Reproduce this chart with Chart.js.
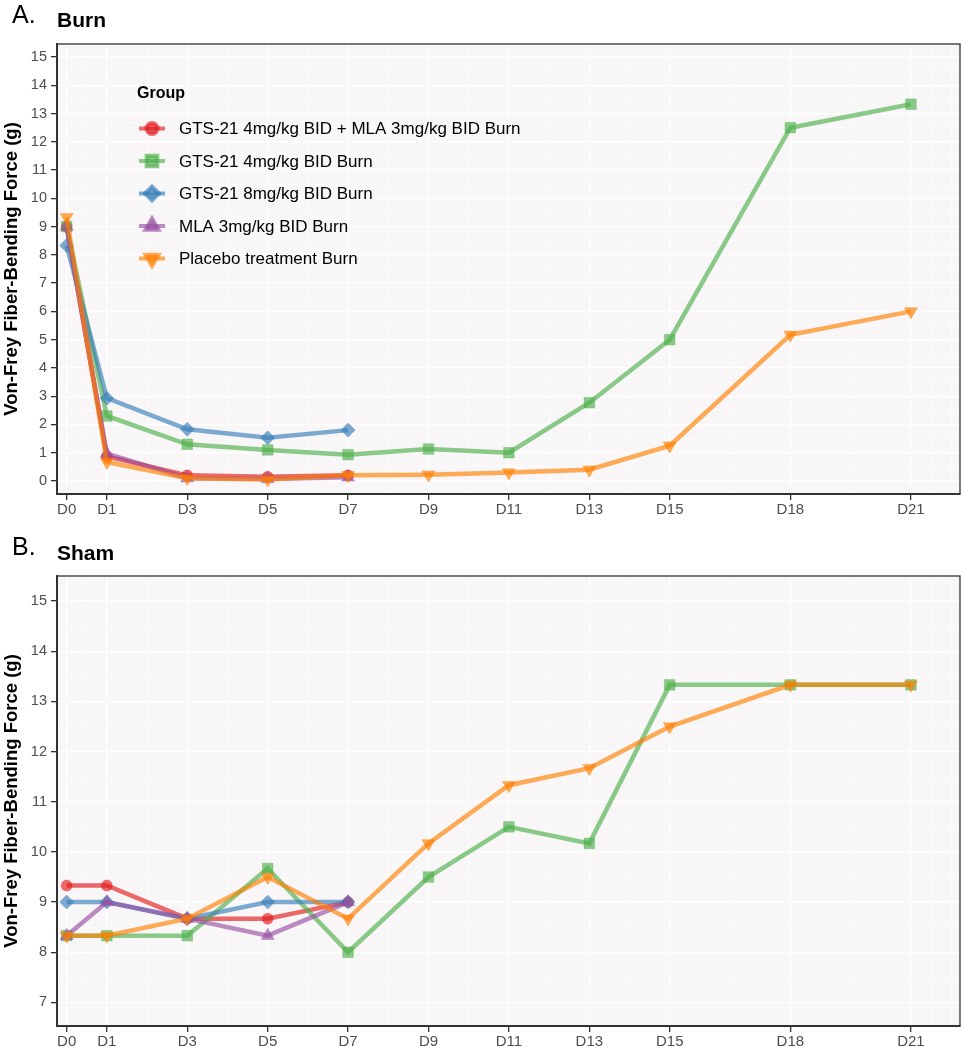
<!DOCTYPE html>
<html>
<head>
<meta charset="utf-8">
<script src="https://cdn.jsdelivr.net/npm/chart.js@4.4.1/dist/chart.umd.min.js"></script>
<style>
    body { margin: 0; background: #fff; font-family: "Liberation Sans", Arial, sans-serif; }
    .wrap { position: relative; width: 962px; height: 1050px; }
    canvas { position: absolute; left: 0; }
    .tag { position: absolute; font-size: 25px; line-height: 25px; color: #000; }
    .name { position: absolute; font-size: 21px; line-height: 21px; font-weight: bold; color: #000; }
</style>
</head>
<body>
<div class="wrap">
    <canvas id="burnChart" width="962" height="520" style="top:0"></canvas>
    <canvas id="shamChart" width="962" height="530" style="top:520px"></canvas>
    <div class="tag" style="left:12px;top:2px">A.</div>
    <div class="name" style="left:57px;top:9px">Burn</div>
    <div class="tag" style="left:12px;top:534px">B.</div>
    <div class="name" style="left:57px;top:542px">Sham</div>
</div>
<script>
// x positions (days) and the group names
const days = [0, 1, 3, 5, 7, 9, 11, 13, 15, 18, 21];
const groups = [
    "GTS-21 4mg/kg BID + MLA 3mg/kg BID Burn",
    "GTS-21 4mg/kg BID Burn",
    "GTS-21 8mg/kg BID Burn",
    "MLA 3mg/kg BID Burn",
    "Placebo treatment Burn"
];

// Burn panel values
const burnCombo = [9.0, 0.87, 0.2, 0.15, 0.2];
const burnGts4 = [9.0, 2.3, 1.3, 1.1, 0.93, 1.13, 1.0, 2.77, 5.0, 12.5, 13.33];
const burnGts8 = [8.33, 2.93, 1.83, 1.53, 1.8];
const burnMla = [9.0, 0.97, 0.1, 0.07, 0.13];
const burnPlacebo = [9.33, 0.67, 0.1, 0.05, 0.2, 0.22, 0.3, 0.4, 1.25, 5.17, 6.0];

// Sham panel values
const shamCombo = [9.33, 9.33, 8.67, 8.67, 9.0];
const shamGts4 = [8.33, 8.33, 8.33, 9.67, 8.0, 9.5, 10.5, 10.17, 13.33, 13.33, 13.33];
const shamGts8 = [9.0, 9.0, 8.67, 9.0, 9.0];
const shamMla = [8.33, 9.0, 8.67, 8.33, 9.0];
const shamPlacebo = [8.33, 8.33, 8.67, 9.5, 8.67, 10.17, 11.33, 11.67, 12.5, 13.33, 13.33];

// minor x grid lines sit halfway between the day breaks
const xMinor = [0.5, 2, 4, 6, 8, 10, 12, 14, 16.5, 19.5, 21.5, 22];

const colours = ["rgba(228,26,28,0.65)", "rgba(77,175,74,0.65)", "rgba(55,126,184,0.65)",
                 "rgba(152,78,163,0.65)", "rgba(255,127,0,0.65)"];
const shapes = ["circle", "rect", "rectRot", "triangle", "triangle"];
const radii = [5.5, 7.5, 7, 7.5, 7.5];
const turns = [0, 0, 0, 0, 180];

Chart.defaults.font.family = '"Liberation Sans", Arial, sans-serif';

const panelBg = {
    id: "panelBg",
    beforeDraw(chart) {
        const a = chart.chartArea, ctx = chart.ctx;
        ctx.save();
        ctx.fillStyle = "#f8f6f7";
        ctx.fillRect(a.left, a.top, a.right - a.left, a.bottom - a.top);
        ctx.restore();
    },
    afterDraw(chart) {
        const a = chart.chartArea, ctx = chart.ctx;
        ctx.save();
        ctx.strokeStyle = "#333";
        ctx.lineWidth = 1.3;
        ctx.strokeRect(a.left, a.top, a.right - a.left, a.bottom - a.top);
        ctx.restore();
    }
};

// legend drawn inside the burn panel
const insideLegend = {
    id: "insideLegend",
    afterDraw(chart, args, opts) {
        if (!opts.show) return;
        const ctx = chart.ctx;
        ctx.save();
        ctx.fillStyle = "#000";
        ctx.font = 'bold 16px "Liberation Sans", Arial, sans-serif';
        ctx.textBaseline = "alphabetic";
        ctx.fillText("Group", 137, 98);
        ctx.font = '17px "Liberation Sans", Arial, sans-serif';
        ctx.textBaseline = "middle";
        groups.forEach((g, i) => {
            const y = 128.5 + i * 32.5;
            ctx.strokeStyle = colours[i];
            ctx.fillStyle = colours[i];
            ctx.lineWidth = 4;
            ctx.beginPath();
            ctx.moveTo(139, y);
            ctx.lineTo(165, y);
            ctx.stroke();
            Chart.helpers.drawPoint(ctx, {pointStyle: shapes[i], radius: radii[i], rotation: turns[i], borderWidth: 0.5}, 152, y);
            ctx.fillStyle = "#000";
            ctx.fillText(g, 179, y + 1);
        });
        ctx.restore();
    }
};

function makeSets(series) {
    return series.map((vals, i) => ({
        label: groups[i],
        data: vals.map((v, k) => ({x: days[k], y: v})),
        borderColor: colours[i],
        backgroundColor: colours[i],
        borderWidth: 4.5,
        pointStyle: shapes[i],
        pointRadius: radii[i],
        pointRotation: turns[i],
        pointBorderWidth: 0.5,
        pointHoverRadius: radii[i],
        order: 5 - i
    }));
}

function makeChart(id, series, yMin, yMax, yLo, yHi, topPad, xHeight, legendOn) {
    const yTicks = [];
    for (let v = yLo; v <= yHi; v += 0.5) yTicks.push(v);
    const xTicks = days.concat(xMinor).sort((a, b) => a - b);
    return new Chart(document.getElementById(id), {
        type: "line",
        data: {datasets: makeSets(series)},
        plugins: [panelBg, insideLegend],
        options: {
            responsive: false,
            animation: false,
            layout: {autoPadding: false, padding: {top: topPad, right: 2, left: 0, bottom: 0}},
            plugins: {
                legend: {display: false},
                tooltip: {enabled: false},
                insideLegend: {show: legendOn}
            },
            scales: {
                x: {
                    type: "linear",
                    min: -0.24,
                    max: 22.22,
                    afterBuildTicks: s => { s.ticks = xTicks.map(v => ({value: v})); },
                    afterFit: s => { s.height = xHeight; s.paddingLeft = 0; s.paddingRight = 0; },
                    grid: {
                        color: "#ffffff",
                        lineWidth: c => days.includes(c.tick.value) ? 1.3 : 0.6,
                        tickColor: c => days.includes(c.tick.value) ? "#333" : "rgba(0,0,0,0)",
                        tickLength: 6
                    },
                    border: {color: "#333", width: 2},
                    ticks: {
                        autoSkip: false,
                        maxRotation: 0,
                        padding: 1,
                        color: "#4d4d4d",
                        font: {size: 15},
                        callback: v => days.includes(v) ? "D" + v : ""
                    }
                },
                y: {
                    min: yMin,
                    max: yMax,
                    afterBuildTicks: s => { s.ticks = yTicks.map(v => ({value: v})); },
                    afterFit: s => { s.width = 57; s.paddingTop = 0; s.paddingBottom = 0; },
                    grid: {
                        color: "#ffffff",
                        lineWidth: c => Number.isInteger(c.tick.value) ? 1.3 : 0.6,
                        tickColor: c => Number.isInteger(c.tick.value) ? "#333" : "rgba(0,0,0,0)",
                        tickLength: 6
                    },
                    border: {color: "#333", width: 2},
                    ticks: {
                        autoSkip: false,
                        padding: 4,
                        color: "#4d4d4d",
                        font: {size: 14.5},
                        callback: v => Number.isInteger(v) ? String(v) : ""
                    },
                    title: {
                        display: true,
                        text: "Von-Frey Fiber-Bending Force (g)",
                        color: "#000",
                        font: {size: 18.5, weight: "bold"},
                        padding: {top: 1, bottom: 0}
                    }
                }
            }
        }
    });
}

makeChart("burnChart", [burnCombo, burnGts4, burnGts8, burnMla, burnPlacebo],
    -0.46, 15.46, 0, 15, 44, 26, true);
makeChart("shamChart", [shamCombo, shamGts4, shamGts8, shamMla, shamPlacebo],
    6.53, 15.5, 7, 15.5, 56, 24, false);
</script>
</body>
</html>
